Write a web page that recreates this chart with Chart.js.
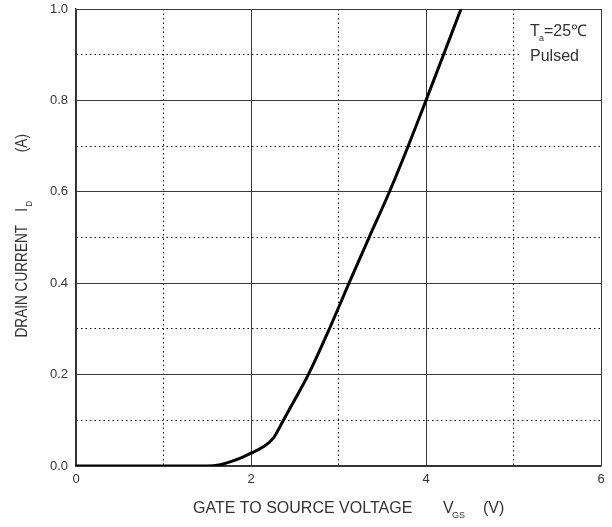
<!DOCTYPE html>
<html><head><meta charset="utf-8">
<script src="https://cdn.jsdelivr.net/npm/chart.js@4"></script>
<style>html,body{margin:0;padding:0;background:#fff}#wrap{width:612px;height:527px;position:relative}</style>
</head><body><div id="wrap"><canvas id="c" width="612" height="527"></canvas></div>
<script>
// Gate-source voltage (V) and drain current (A)
const vgs = [0, 1.0, 1.5, 1.65, 1.76, 1.9, 2.0, 2.14, 2.255, 2.37, 2.5, 2.655, 2.9, 3.12, 3.34, 3.58, 3.79, 4.0, 4.2, 4.4];
const idA = [0, 0, 0, 0.003, 0.009, 0.019, 0.028, 0.042, 0.061, 0.1, 0.145, 0.2, 0.302, 0.4, 0.496, 0.599, 0.697, 0.8, 0.9, 1.0];
const xTickLabels = ['0', '', '2', '', '4', '', '6'];
const yTickLabels = ['0.0', '', '0.2', '', '0.4', '', '0.6', '', '0.8', '', '1.0'];
const xTitle = ['GATE TO SOURCE VOLTAGE', 'V', 'GS', '(V)'];
const yTitle = ['DRAIN CURRENT', 'I', 'D', '(A)'];
const noteLines = ['T', 'a', '=25℃', 'Pulsed'];

const FONT = '"Liberation Sans", Arial, sans-serif';
const points = vgs.map((v, i) => ({x: v, y: idA[i]}));

const titles = {
  id: 'titles',
  afterDraw(chart) {
    const {ctx, chartArea: a} = chart;
    ctx.save();
    ctx.fillStyle = '#333';
    ctx.textBaseline = 'alphabetic';
    ctx.textAlign = 'left';
    // x axis title
    const xb = a.bottom + 47;
    ctx.font = '16px ' + FONT;
    ctx.fillText(xTitle[0], a.left + 117, xb);
    ctx.fillText(xTitle[1], a.left + 367, xb);
    ctx.font = '9px ' + FONT;
    ctx.fillText(xTitle[2], a.left + 376, xb + 5);
    ctx.font = '16px ' + FONT;
    ctx.fillText(xTitle[3], a.left + 407, xb);
    // y axis title
    ctx.save();
    ctx.translate(27, (a.top + a.bottom) / 2 + 100);
    ctx.rotate(-Math.PI / 2);
    ctx.scale(0.85, 1);
    ctx.font = '16px ' + FONT;
    ctx.fillText(yTitle[0], 0, 0);
    ctx.fillText(yTitle[1], 148, 0);
    ctx.font = '9px ' + FONT;
    ctx.fillText(yTitle[2], 154, 5);
    ctx.font = '16px ' + FONT;
    ctx.fillText(yTitle[3], 218, 0);
    ctx.restore();
    // note with white backing box
    ctx.fillStyle = '#fff';
    ctx.fillRect(520, 18, a.right - 521, 50);
    ctx.fillStyle = '#333';
    ctx.font = '16px ' + FONT;
    ctx.fillText(noteLines[0], 530, 36);
    ctx.font = '9px ' + FONT;
    ctx.fillText(noteLines[1], 539, 41);
    ctx.font = '16px ' + FONT;
    ctx.fillText(noteLines[2], 544, 36);
    ctx.fillText(noteLines[3], 530, 61);
    ctx.restore();
  }
};

const isMajorX = v => Math.round(v) % 2 === 0;
const isMajorY = v => Math.round(v * 10) % 2 === 0;

new Chart(document.getElementById('c'), {
  type: 'line',
  data: {
    datasets: [{
      data: points,
      borderColor: '#000',
      borderWidth: 3,
      pointRadius: 0,
      fill: false,
      cubicInterpolationMode: 'monotone'
    }]
  },
  options: {
    responsive: false,
    animation: false,
    devicePixelRatio: 1,
    layout: {padding: {top: 9, right: 11, left: 0, bottom: 0}},
    plugins: {legend: {display: false}, tooltip: {enabled: false}},
    scales: {
      x: {
        type: 'linear', min: 0, max: 6,
        afterFit: s => { s.height = 61; s.paddingLeft = 0; s.paddingRight = 0; },
        ticks: {
          stepSize: 1, autoSkip: false, maxRotation: 0, padding: 6,
          color: '#333', font: {family: FONT, size: 13},
          callback: (v, i) => xTickLabels[i] ?? ''
        },
        grid: {
          drawTicks: false, lineWidth: 1,
          color: c => (c.tick && !isMajorX(c.tick.value)) ? '#111' : '#3a3a3a'
        },
        border: {
          display: true, color: '#333', width: 1.5,
          dash: c => (c.tick && !isMajorX(c.tick.value)) ? [1.5, 3] : []
        }
      },
      y: {
        type: 'linear', min: 0, max: 1,
        afterFit: s => { s.width = 76; s.paddingTop = 0; s.paddingBottom = 0; },
        ticks: {
          stepSize: 0.1, autoSkip: false, padding: 8,
          color: '#333', font: {family: FONT, size: 13},
          callback: (v, i) => yTickLabels[i] ?? ''
        },
        grid: {
          drawTicks: false, lineWidth: 1,
          color: c => (c.tick && !isMajorY(c.tick.value)) ? '#111' : '#3a3a3a'
        },
        border: {
          display: true, color: '#333', width: 1.5,
          dash: c => (c.tick && !isMajorY(c.tick.value)) ? [1.5, 3] : []
        }
      }
    }
  },
  plugins: [titles]
});
</script>
</body></html>
